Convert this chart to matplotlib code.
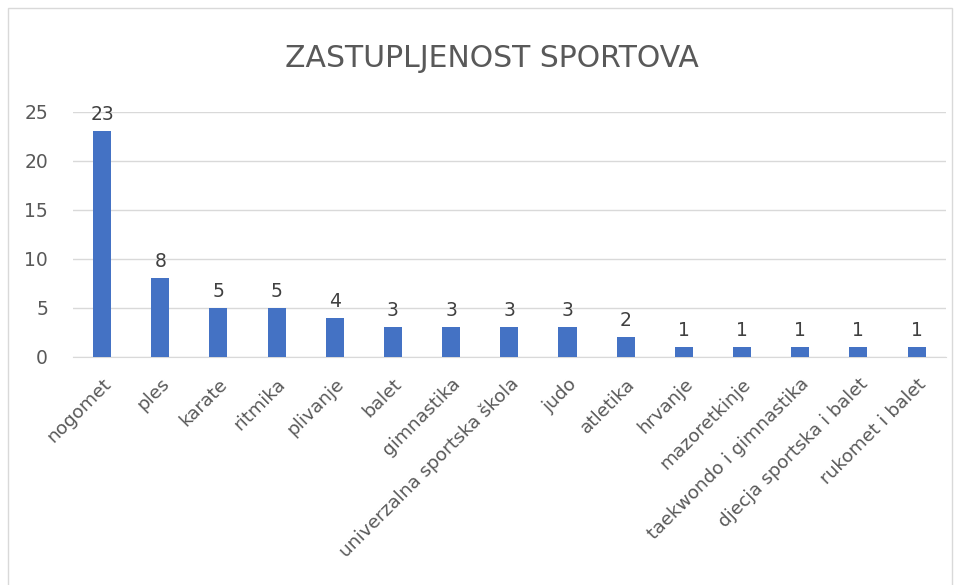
import matplotlib.pyplot as plt
from matplotlib.patches import Rectangle

sports = ['nogomet', 'ples', 'karate', 'ritmika', 'plivanje', 'balet',
          'gimnastika', 'univerzalna sportska škola', 'judo', 'atletika',
          'hrvanje', 'mazoretkinje', 'taekwondo i gimnastika',
          'djecja sportska i balet', 'rukomet i balet']
counts = [23, 8, 5, 5, 4, 3, 3, 3, 3, 2, 1, 1, 1, 1, 1]
y_ticks = [0, 5, 10, 15, 20, 25]

text_color = '#595959'

fig = plt.figure(figsize=(9.61, 5.85), dpi=100)
ax = fig.add_axes([0.076, 0.39, 0.908, 0.419])

# chart border like the spreadsheet frame
fig.patches.append(Rectangle((8 / 961, -0.01), 944 / 961, 1 - 8 / 585 + 0.01,
                             transform=fig.transFigure, fill=False,
                             edgecolor='#d9d9d9', linewidth=1))

bars = ax.bar(range(len(sports)), counts, width=0.31, color='#4472c4', zorder=3)
for rect, val in zip(bars, counts):
    ax.annotate(str(val), (rect.get_x() + rect.get_width() / 2, val),
                xytext=(0, 5), textcoords='offset points', ha='center',
                va='bottom', fontsize=13.5, color='#404040')

ax.set_xlim(-0.5, len(sports) - 0.5)
ax.set_ylim(0, 25)
ax.set_yticks(y_ticks)
ax.yaxis.grid(True, color='#d9d9d9', linewidth=1, zorder=0)
ax.set_xticks(range(len(sports)))
ax.set_xticklabels(sports, rotation=45, ha='right', rotation_mode='anchor',
                   fontsize=13.3, color=text_color)
ax.tick_params(axis='y', labelsize=13.5, colors=text_color, length=0, pad=18)
ax.tick_params(axis='x', length=0, pad=13)
for side in ['top', 'right', 'left']:
    ax.spines[side].set_visible(False)
ax.spines['bottom'].set_color('#d9d9d9')

fig.text(0.512, 0.9, 'ZASTUPLJENOST SPORTOVA', ha='center', va='center',
         fontsize=21.5, color=text_color)

plt.savefig('out.png')
